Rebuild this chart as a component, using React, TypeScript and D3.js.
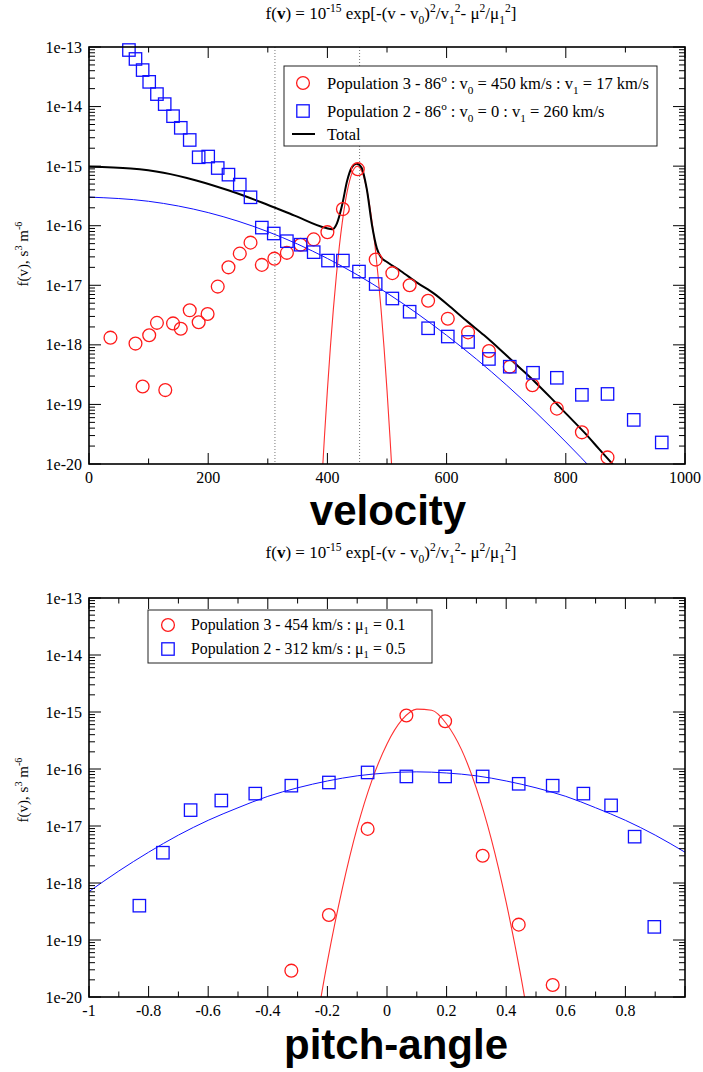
import React from "react";
import * as d3 from "d3";

const W = 703;
const H = 1072;

// ---------- TOP PANEL (velocity) ----------
const velP3 = [36, 78, 90, 101, 114, 128, 141, 154, 169, 184, 199, 216, 234, 253, 271, 290, 311, 332, 355, 377, 400, 426, 451, 481, 509, 538, 569, 602, 636, 671, 706, 744, 785, 827, 870];
const fP3 = [1.32e-18, 1.05e-18, 2.0e-19, 1.45e-18, 2.34e-18, 1.74e-19, 2.29e-18, 1.86e-18, 3.8e-18, 2.4e-18, 3.3e-18, 9.5e-18, 2.0e-17, 3.4e-17, 5.2e-17, 2.2e-17, 2.8e-17, 3.5e-17, 4.8e-17, 5.9e-17, 7.8e-17, 1.9e-16, 8.9e-16, 2.7e-17, 1.6e-17, 1.0e-17, 5.5e-18, 2.75e-18, 1.62e-18, 7.9e-19, 4.3e-19, 2.1e-19, 8.5e-20, 3.4e-20, 1.29e-20];

const velP2 = [67, 78, 90, 101, 114, 127, 141, 154, 169, 184, 200, 216, 234, 253, 271, 290, 310, 332, 355, 377, 401, 426, 453, 481, 509, 538, 569, 602, 636, 671, 706, 745, 785, 827, 870, 914, 961];
const fP2 = [8.9e-14, 6.3e-14, 4.1e-14, 2.6e-14, 1.62e-14, 1.1e-14, 6.9e-15, 4.4e-15, 2.75e-15, 1.41e-15, 1.45e-15, 9.3e-16, 7.2e-16, 4.9e-16, 3.0e-16, 9.3e-17, 7.4e-17, 5.5e-17, 4.8e-17, 3.6e-17, 2.6e-17, 2.6e-17, 1.7e-17, 1.05e-17, 6.0e-18, 3.6e-18, 1.9e-18, 1.38e-18, 1.12e-18, 5.8e-19, 4.3e-19, 3.4e-19, 2.8e-19, 1.45e-19, 1.5e-19, 5.5e-20, 2.3e-20];

// fitted curves (log10 of f)
const velFitP3 = [385, 390, 395, 400, 405, 410, 415, 420, 425, 430, 435, 440, 445, 450, 455, 460, 465, 470, 475, 480, 485, 490, 495, 500, 505, 510, 515];
const logFitP3 = [-21.4, -20.41, -19.55, -18.76, -18.04, -17.40, -16.84, -16.35, -15.94, -15.60, -15.34, -15.15, -15.04, -15.0, -15.04, -15.15, -15.34, -15.60, -15.94, -16.35, -16.84, -17.40, -18.04, -18.76, -19.55, -20.41, -21.4];

const velFitP2 = [0, 100, 200, 300, 400, 500, 600, 700, 800, 850, 900];
const logFitP2 = [-15.52, -15.59, -15.78, -16.10, -16.55, -17.13, -17.84, -18.67, -19.63, -20.15, -20.7];

const velTotal = [0, 70, 125, 180, 235, 290, 345, 398, 408, 416, 425, 433, 441, 449, 457, 466, 475, 483, 490, 500, 523, 551, 579, 607, 635, 663, 691, 719, 747, 775, 803, 831, 856, 881, 900];
const logTotal = [-15.01, -15.04, -15.11, -15.24, -15.41, -15.61, -15.83, -16.04, -16.06, -15.96, -15.64, -15.25, -15.02, -14.96, -15.02, -15.38, -16.0, -16.38, -16.53, -16.61, -16.76, -16.96, -17.14, -17.37, -17.61, -17.84, -18.09, -18.35, -18.61, -18.89, -19.18, -19.47, -19.75, -20.03, -20.25];

const dottedVel = [312, 454];

// ---------- BOTTOM PANEL (pitch-angle) ----------
const muP3 = [-0.321, -0.195, -0.065, 0.065, 0.195, 0.321, 0.442, 0.556];
const fMuP3 = [2.9e-20, 2.75e-19, 8.9e-18, 8.7e-16, 6.9e-16, 3.0e-18, 1.86e-19, 1.62e-20];

const muP2 = [-0.831, -0.752, -0.659, -0.556, -0.442, -0.321, -0.195, -0.065, 0.065, 0.195, 0.321, 0.442, 0.556, 0.659, 0.752, 0.831, 0.897];
const fMuP2 = [4.0e-19, 3.4e-18, 1.9e-17, 2.8e-17, 3.7e-17, 5.1e-17, 5.8e-17, 8.7e-17, 7.4e-17, 7.4e-17, 7.4e-17, 5.5e-17, 5.1e-17, 3.7e-17, 2.3e-17, 6.5e-18, 1.7e-19];

const muFitP3 = [-0.25, -0.2, -0.15, -0.1, -0.05, 0, 0.05, 0.1, 0.15, 0.2, 0.25, 0.3, 0.35, 0.4, 0.45, 0.5];
const logMuFitP3 = [-20.88, -19.38, -18.10, -17.03, -16.19, -15.56, -15.14, -14.95, -14.97, -15.21, -15.66, -16.34, -17.23, -18.34, -19.66, -21.2];

const muFitP2 = [-1, -0.9, -0.8, -0.7, -0.6, -0.5, -0.4, -0.3, -0.2, -0.1, 0, 0.1, 0.2, 0.3, 0.4, 0.5, 0.6, 0.7, 0.8, 0.9, 1];
const logMuFitP2 = [-18.15, -17.79, -17.46, -17.16, -16.90, -16.68, -16.48, -16.33, -16.21, -16.12, -16.07, -16.05, -16.07, -16.12, -16.21, -16.33, -16.48, -16.68, -16.90, -17.16, -17.46];

// ---------- ticks ----------
const decadeTicks = [1e-13, 1e-14, 1e-15, 1e-16, 1e-17, 1e-18, 1e-19, 1e-20];
const decadeLabels = ["1e-13", "1e-14", "1e-15", "1e-16", "1e-17", "1e-18", "1e-19", "1e-20"];
const velMajor = [0, 200, 400, 600, 800, 1000];
const velLabels = ["0", "200", "400", "600", "800", "1000"];
const velMinor = [100, 300, 500, 700, 900];
const muMajor = [-1, -0.8, -0.6, -0.4, -0.2, 0, 0.2, 0.4, 0.6, 0.8, 1];
const muLabels = ["-1", "-0.8", "-0.6", "-0.4", "-0.2", "0", "0.2", "0.4", "0.6", "0.8", ""];
const muMinor = [-0.9, -0.7, -0.5, -0.3, -0.1, 0.1, 0.3, 0.5, 0.7, 0.9];

const RED = "#ff1a1a";
const REDLINE = "#ff3030";
const BLUE = "#1010ff";
const SERIF = "'Liberation Serif', 'Times New Roman', serif";
const SANS = "'Liberation Sans', Arial, sans-serif";

type Seg = [string, string?];

function Rich(props: { segs: Seg[]; x: number; y: number; size: number; anchor?: string; transform?: string }) {
  const { segs, x, y, size, anchor, transform } = props;
  let shift = 0;
  const spans = segs.map(([t, k], i) => {
    const target = k === "sup" ? -0.42 * size : k === "sub" ? 0.28 * size : 0;
    const dy = target - shift;
    shift = target;
    const small = k === "sup" || k === "sub";
    return (
      <tspan key={i} dy={dy} fontSize={small ? size * 0.68 : size} fontWeight={k === "b" ? "bold" : undefined}>
        {t}
      </tspan>
    );
  });
  return (
    <text x={x} y={y} fontFamily={SERIF} fontSize={size} textAnchor={anchor || "start"} transform={transform} style={{ whiteSpace: "pre" }} fill="#000">
      {spans}
    </text>
  );
}

const titleSegs: Seg[] = [
  ["f("], ["v", "b"], [") = 10"], ["-15", "sup"], [" exp[-(v - v"], ["0", "sub"], [")"], ["2", "sup"], ["/v"], ["1", "sub"], ["2", "sup"], ["- \u03bc"], ["2", "sup"], ["/\u03bc"], ["1", "sub"], ["2", "sup"], ["]"],
];
const ylabelSegs: Seg[] = [["f(v), s"], ["3", "sup"], [" m"], ["-6", "sup"]];

interface Box { left: number; right: number; top: number; bottom: number }

function Circle({ cx, cy }: { cx: number; cy: number }) {
  return <circle cx={cx} cy={cy} r={6.4} fill="none" stroke={RED} strokeWidth={1.3} />;
}
function Square({ cx, cy }: { cx: number; cy: number }) {
  return <rect x={cx - 6.2} y={cy - 6.2} width={12.4} height={12.4} fill="none" stroke={BLUE} strokeWidth={1.3} />;
}

function Axes(props: {
  box: Box; x: d3.ScaleLinear<number, number>; y: d3.ScaleLogarithmic<number, number>;
  major: number[]; labels: string[]; minor: number[];
}) {
  const { box, x, y, major, labels, minor } = props;
  const minorY: number[] = [];
  for (let e = -20; e < -13; e++) for (let m = 2; m <= 9; m++) minorY.push(m * Math.pow(10, e));
  const els: React.ReactNode[] = [];
  major.forEach((v, i) => {
    const px = x(v);
    els.push(<line key={"xb" + i} x1={px} x2={px} y1={box.bottom} y2={box.bottom - 11} stroke="#000" strokeWidth={1} />);
    els.push(<line key={"xt" + i} x1={px} x2={px} y1={box.top} y2={box.top + 11} stroke="#000" strokeWidth={1} />);
    els.push(
      <text key={"xl" + i} x={px} y={box.bottom + 19} fontFamily={SERIF} fontSize={16} textAnchor="middle">{labels[i]}</text>
    );
  });
  minor.forEach((v, i) => {
    const px = x(v);
    els.push(<line key={"xbm" + i} x1={px} x2={px} y1={box.bottom} y2={box.bottom - 5.5} stroke="#000" strokeWidth={1} />);
    els.push(<line key={"xtm" + i} x1={px} x2={px} y1={box.top} y2={box.top + 5.5} stroke="#000" strokeWidth={1} />);
  });
  decadeTicks.forEach((v, i) => {
    const py = y(v);
    els.push(<line key={"yl" + i} x1={box.left} x2={box.left + 12} y1={py} y2={py} stroke="#000" strokeWidth={1} />);
    els.push(<line key={"yr" + i} x1={box.right} x2={box.right - 12} y1={py} y2={py} stroke="#000" strokeWidth={1} />);
    els.push(
      <text key={"ylab" + i} x={box.left - 7} y={py + 5.5} fontFamily={SERIF} fontSize={16} textAnchor="end">{decadeLabels[i]}</text>
    );
  });
  minorY.forEach((v, i) => {
    const py = y(v);
    els.push(<line key={"ylm" + i} x1={box.left} x2={box.left + 6} y1={py} y2={py} stroke="#000" strokeWidth={1} />);
    els.push(<line key={"yrm" + i} x1={box.right} x2={box.right - 6} y1={py} y2={py} stroke="#000" strokeWidth={1} />);
  });
  return (
    <g>
      {els}
      <rect x={box.left} y={box.top} width={box.right - box.left} height={box.bottom - box.top} fill="none" stroke="#000" strokeWidth={1.6} />
    </g>
  );
}

const topBox: Box = { left: 89, right: 685, top: 47, bottom: 464 };
const botBox: Box = { left: 89, right: 685, top: 598, bottom: 997 };

export default function App() {
  const xT = d3.scaleLinear().domain([0, 1000]).range([topBox.left, topBox.right]);
  const yT = d3.scaleLog().domain([1e-20, 1e-13]).range([topBox.bottom, topBox.top]);
  const xB = d3.scaleLinear().domain([-1, 1]).range([botBox.left, botBox.right]);
  const yB = d3.scaleLog().domain([1e-20, 1e-13]).range([botBox.bottom, botBox.top]);

  const lineT = d3.line<[number, number]>().x((d) => xT(d[0])).y((d) => yT(Math.pow(10, d[1]))).curve(d3.curveMonotoneX);
  const lineB = d3.line<[number, number]>().x((d) => xB(d[0])).y((d) => yB(Math.pow(10, d[1]))).curve(d3.curveMonotoneX);

  const zip = (a: number[], b: number[]) => a.map((v, i) => [v, b[i]] as [number, number]);

  return (
    <svg width={W} height={H} viewBox={`0 0 ${W} ${H}`} style={{ display: "block", position: "absolute", left: 0, top: 0, background: "#fff" }}>
      <defs>
        <clipPath id="clipTop">
          <rect x={topBox.left} y={topBox.top} width={topBox.right - topBox.left} height={topBox.bottom - topBox.top} />
        </clipPath>
        <clipPath id="clipBot">
          <rect x={botBox.left} y={botBox.top} width={botBox.right - botBox.left} height={botBox.bottom - botBox.top} />
        </clipPath>
      </defs>
      <rect x={0} y={0} width={W} height={H} fill="#fff" />

      {/* ---------------- TOP ---------------- */}
      <Rich segs={titleSegs} x={391} y={19} size={17} anchor="middle" />
      {dottedVel.map((v, i) => (
        <line key={"dv" + i} x1={xT(v)} x2={xT(v)} y1={topBox.top} y2={topBox.bottom} stroke="#777" strokeWidth={1} strokeDasharray="1,2" />
      ))}
      <g clipPath="url(#clipTop)">
        <path d={lineT(zip(velFitP2, logFitP2)) || ""} fill="none" stroke={BLUE} strokeWidth={1} />
        <path d={lineT(zip(velFitP3, logFitP3)) || ""} fill="none" stroke={REDLINE} strokeWidth={1.1} />
        <path d={lineT(zip(velTotal, logTotal)) || ""} fill="none" stroke="#000" strokeWidth={2} />
      </g>
      {velP3.map((v, i) => <Circle key={"c" + i} cx={xT(v)} cy={yT(fP3[i])} />)}
      {velP2.map((v, i) => <Square key={"s" + i} cx={xT(v)} cy={yT(fP2[i])} />)}
      <Axes box={topBox} x={xT} y={yT as any} major={velMajor} labels={velLabels} minor={velMinor} />
      <Rich segs={ylabelSegs} x={0} y={0} size={15} anchor="middle" transform="translate(28,254) rotate(-90)" />

      {/* legend top */}
      <rect x={284} y={66} width={373} height={80} fill="#fff" stroke="#222" strokeWidth={1} />
      <Circle cx={303} cy={83} />
      <Rich segs={[["Population 3 - 86"], ["o", "sup"], [" : v"], ["0", "sub"], [" = 450 km/s : v"], ["1", "sub"], [" = 17 km/s"]]} x={327} y={89} size={16.5} />
      <Square cx={303} cy={111} />
      <Rich segs={[["Population 2 - 86"], ["o", "sup"], [" : v"], ["0", "sub"], [" = 0 : v"], ["1", "sub"], [" = 260 km/s"]]} x={327} y={117} size={16.5} />
      <line x1={292} x2={315} y1={134} y2={134} stroke="#000" strokeWidth={2} />
      <Rich segs={[["Total"]]} x={327} y={140} size={16.5} />

      <text x={388} y={525} fontFamily={SANS} fontWeight="bold" fontSize={42} textAnchor="middle">velocity</text>

      {/* ---------------- BOTTOM ---------------- */}
      <Rich segs={titleSegs} x={391} y={558} size={17} anchor="middle" />
      <g clipPath="url(#clipBot)">
        <path d={lineB(zip(muFitP2, logMuFitP2)) || ""} fill="none" stroke={BLUE} strokeWidth={1} />
        <path d={lineB(zip(muFitP3, logMuFitP3)) || ""} fill="none" stroke={REDLINE} strokeWidth={1.1} />
      </g>
      {muP3.map((v, i) => <Circle key={"bc" + i} cx={xB(v)} cy={yB(fMuP3[i])} />)}
      {muP2.map((v, i) => <Square key={"bs" + i} cx={xB(v)} cy={yB(fMuP2[i])} />)}
      <Axes box={botBox} x={xB} y={yB as any} major={muMajor} labels={muLabels} minor={muMinor} />
      <Rich segs={ylabelSegs} x={0} y={0} size={15} anchor="middle" transform="translate(28,790) rotate(-90)" />

      {/* legend bottom */}
      <rect x={148} y={610} width={284} height={53} fill="#fff" stroke="#222" strokeWidth={1} />
      <Circle cx={168} cy={625} />
      <Rich segs={[["Population 3 - 454 km/s : \u03bc"], ["1", "sub"], [" = 0.1"]]} x={191} y={630} size={15.8} />
      <Square cx={168} cy={649} />
      <Rich segs={[["Population 2 - 312 km/s : \u03bc"], ["1", "sub"], [" = 0.5"]]} x={191} y={654} size={15.8} />

      <text x={396} y={1059} fontFamily={SANS} fontWeight="bold" fontSize={42} textAnchor="middle">pitch-angle</text>
    </svg>
  );
}
